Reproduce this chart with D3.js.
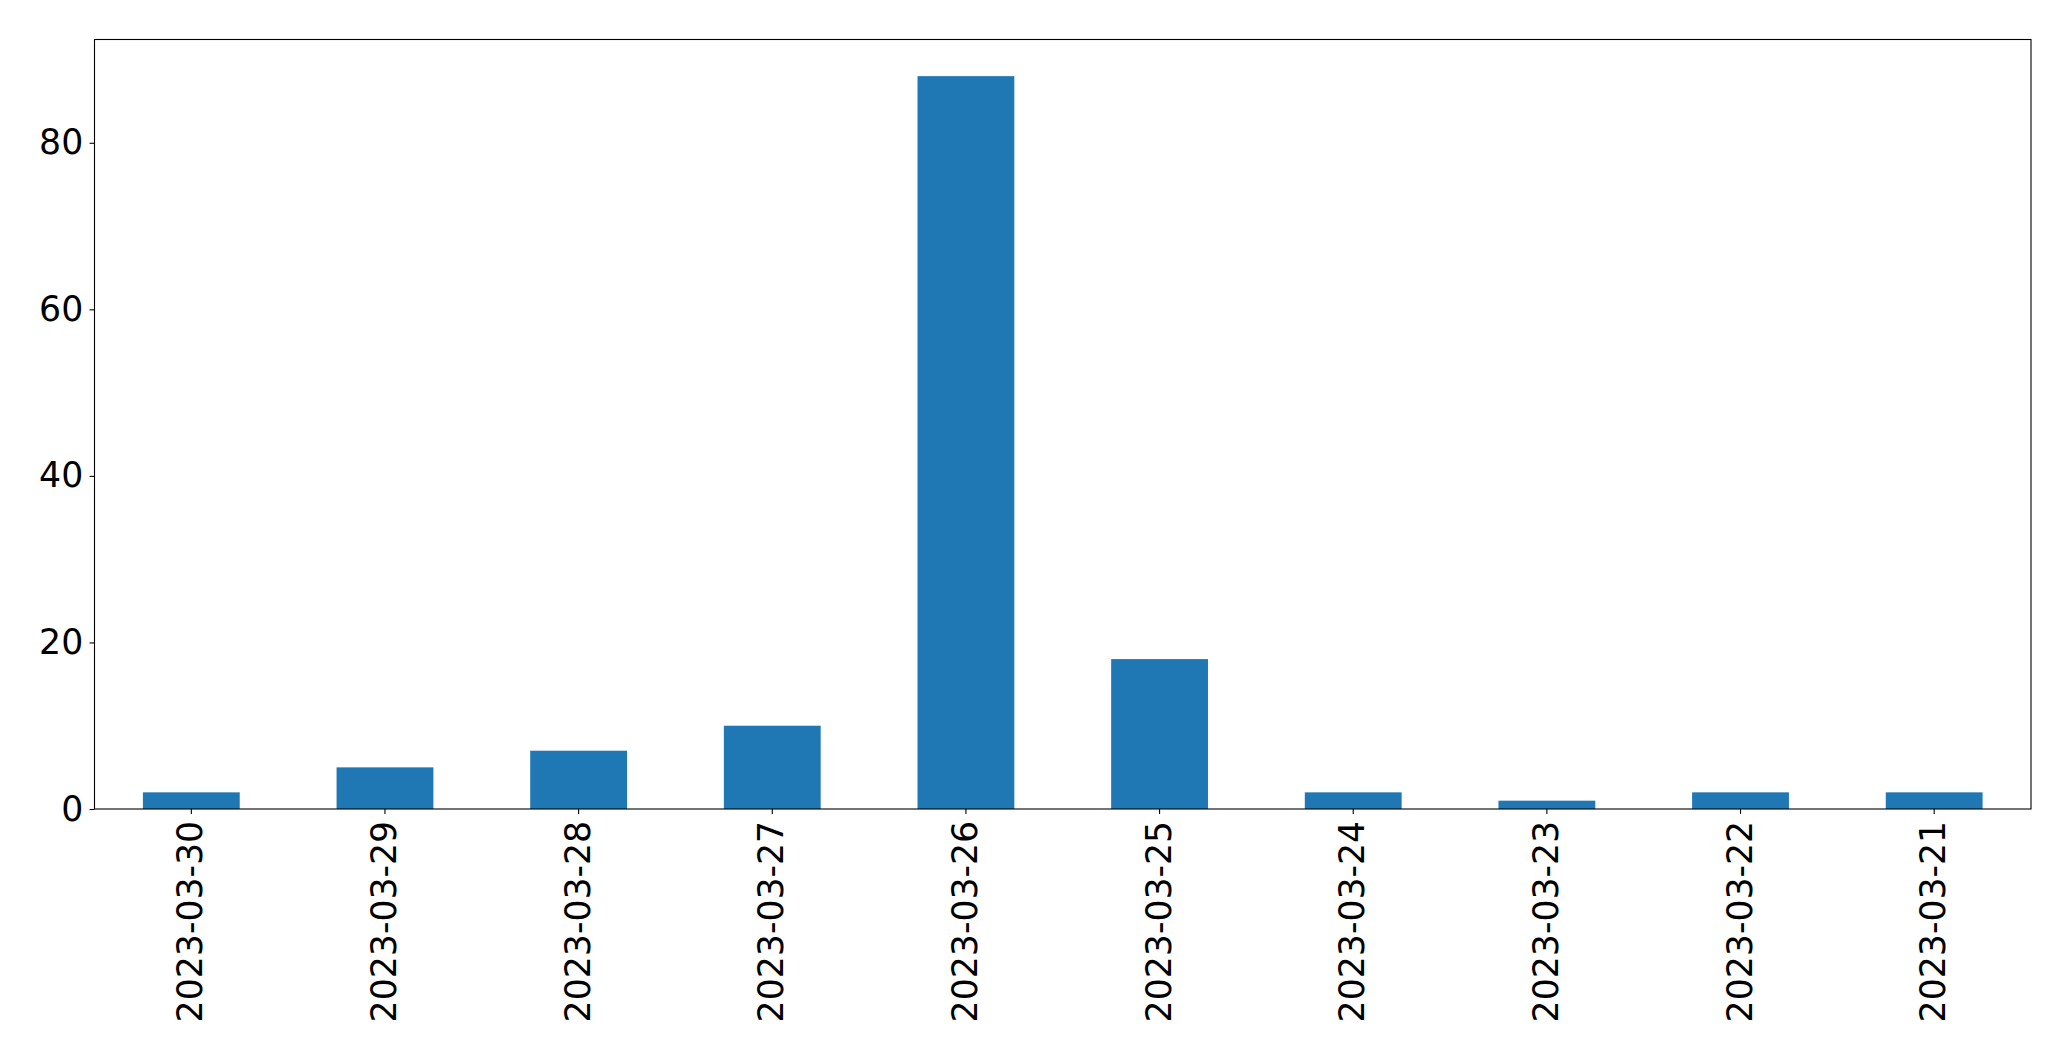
<!DOCTYPE html>
<html>
<head>
<meta charset="utf-8">
<script src="https://cdn.jsdelivr.net/npm/d3@7"></script>
<style>
  html, body { margin: 0; padding: 0; background: #ffffff; }
  svg { display: block; }
</style>
</head>
<body>
<script>
const categories = ["2023-03-30","2023-03-29","2023-03-28","2023-03-27","2023-03-26","2023-03-25","2023-03-24","2023-03-23","2023-03-22","2023-03-21"];
const values = [2, 5, 7, 10, 88, 18, 2, 1, 2, 2];
const yTicks = [0, 20, 40, 60, 80];

const W = 2071, H = 1061;
const plotLeft = 94.5, plotRight = 2031, plotTop = 39.5, plotBottom = 809;
const fontSize = 34.7;
const tickLen = 4.9;
const pad = 4.9;

const svg = d3.select("body").append("svg")
  .attr("width", W).attr("height", H)
  .style("font-family", "'DejaVu Sans', sans-serif");

const x = d3.scaleBand().domain(categories).range([plotLeft, plotRight]).paddingInner(0.5).paddingOuter(0.25);
const yMax = d3.max(values) * 1.05;
const y = d3.scaleLinear().domain([0, yMax]).range([plotBottom, plotTop]);

svg.append("g").selectAll("rect").data(values).join("rect")
  .attr("x", (d, i) => x(categories[i]))
  .attr("width", x.bandwidth())
  .attr("y", d => y(d))
  .attr("height", d => y(0) - y(d))
  .attr("fill", "#1f77b4");

// y axis
const yAxis = d3.axisLeft(y).tickValues(yTicks).tickSize(tickLen).tickPadding(pad).tickFormat(d3.format("d"));
const gy = svg.append("g").attr("transform", `translate(${plotLeft},0)`).call(yAxis);
gy.select(".domain").remove();
gy.selectAll(".tick line").attr("stroke", "#000").attr("stroke-width", 1.1);
gy.selectAll(".tick text").attr("font-size", fontSize).attr("fill", "#000")
  .attr("font-family", "'DejaVu Sans', sans-serif").attr("x", -(tickLen + pad + 1.5));

// x axis
const xAxis = d3.axisBottom(x).tickSize(tickLen).tickPadding(pad);
const gx = svg.append("g").attr("transform", `translate(0,${plotBottom})`).call(xAxis);
gx.select(".domain").remove();
gx.selectAll(".tick line").attr("stroke", "#000").attr("stroke-width", 1.1);
gx.selectAll(".tick text")
  .attr("font-size", fontSize).attr("fill", "#000")
  .attr("font-family", "'DejaVu Sans', sans-serif")
  .attr("text-anchor", "end")
  .attr("x", 0).attr("y", 0)
  .attr("dy", "0.35em")
  .attr("transform", `translate(-1,${tickLen + pad + 2}) rotate(-90)`);

// frame
svg.append("rect")
  .attr("x", plotLeft).attr("y", plotTop)
  .attr("width", plotRight - plotLeft).attr("height", plotBottom - plotTop)
  .attr("fill", "none").attr("stroke", "#000").attr("stroke-width", 1.1);
</script>
</body>
</html>
